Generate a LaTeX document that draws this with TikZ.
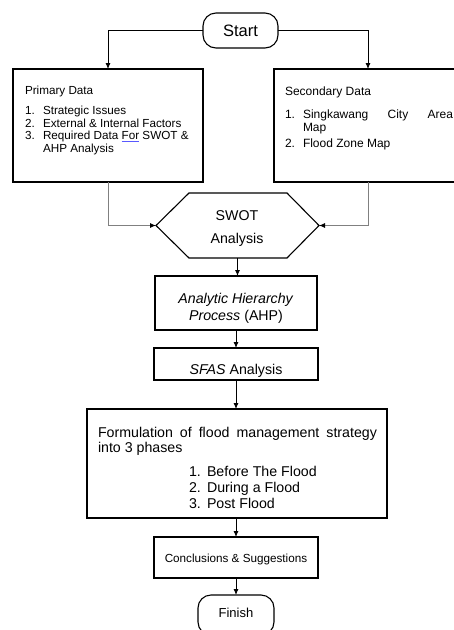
\documentclass[tikz,border=0pt]{standalone}
\usepackage{fontspec}
\setmainfont{Liberation Sans}
\usetikzlibrary{arrows.meta}
\newcommand{\spellmark}[1]{{\setbox0\hbox{#1}\rlap{\color{blue!65}\rule[-2.2pt]{\wd0}{0.6pt}}\box0}}
\tikzset{
  box/.style={draw, line width=1.1pt, inner sep=0pt, outer sep=0pt},
  term/.style={box, rounded corners=13pt},
  txt/.style={anchor=base west, inner sep=0pt, outer sep=0pt},
  ctxt/.style={anchor=base, inner sep=0pt, outer sep=0pt},
  arr/.style={line width=0.9pt, -{Latex[length=6pt,width=5pt]}},
  garr/.style={line width=0.9pt, draw=black!50, -{Latex[length=6pt,width=5pt,color=black]}},
  fA/.style={font=\fontsize{11.7}{14}\selectfont},
  fB/.style={font=\fontsize{12}{14}\selectfont},
  fC/.style={font=\fontsize{14.2}{17}\selectfont},
  fD/.style={font=\fontsize{16.5}{19}\selectfont},
  fE/.style={font=\fontsize{13}{15}\selectfont},
}
\begin{document}
\begin{tikzpicture}[x=1pt,y=-1pt]
\useasboundingbox (0,0) rectangle (454,630);
\clip (0,0) rectangle (454,630);
\fill[white] (0,0) rectangle (454,630);

% boxes
\node[term, minimum width=75, minimum height=35] (start) at (240.5,30.5) {};
\node[box, minimum width=190, minimum height=113] (prim) at (108,125.5) {};
\node[box, minimum width=188, minimum height=113] (sec) at (368,125.5) {};
\node[inner sep=0pt, outer sep=0pt, minimum width=163, minimum height=65] (swot) at (237.5,225.5) {};
\draw[line width=1.1pt] (swot.west) -- ([xshift=33pt]swot.north west) -- ([xshift=-32pt]swot.north east)
  -- (swot.east) -- ([xshift=-32pt]swot.south east) -- ([xshift=33pt]swot.south west) -- cycle;
\node[box, minimum width=162, minimum height=54] (ahp) at (236,303) {};
\node[box, minimum width=164, minimum height=32] (sfas) at (236,364) {};
\node[box, minimum width=300, minimum height=109] (form) at (237,463.5) {};
\node[box, minimum width=164, minimum height=41] (concl) at (236,557.5) {};
\node[term, minimum width=76, minimum height=40] (finish) at (236,615) {};

% texts
\node[ctxt, fD] (tstart) at (240.5,36) {Start};

\node[txt, fA] (p0) at (25,94) {Primary Data};
\node[txt, fA] (p1n) at (25,114) {1.};
\node[txt, fA] (p1) at (43,114) {Strategic Issues};
\node[txt, fA] (p2n) at (25,127) {2.};
\node[txt, fA] (p2) at (43,127) {External \& Internal Factors};
\node[txt, fA] (p3n) at (25,139.5) {3.};
\node[txt, fA] (p3) at (43,139.5) {Required Data \spellmark{For} SWOT \&};
\node[txt, fA] (p3b) at (43,152) {AHP Analysis};

\node[txt, fB] (s0) at (285,95) {Secondary Data};
\node[txt, fB] (s1n) at (285,118) {1.};
\node[txt, fB] (s1) at (303,118) {\hbox to 150pt{Singkawang\hfill City\hfill Area}};
\node[txt, fB] (s1b) at (303,131) {Map};
\node[txt, fB] (s2n) at (285,147) {2.};
\node[txt, fB] (s2) at (303,147) {Flood Zone Map};

\node[ctxt, fC] (w1) at (237,220) {SWOT};
\node[ctxt, fC] (w2) at (237,243) {Analysis};

\node[ctxt, fC] (a1) at (236,303) {\textit{Analytic Hierarchy}};
\node[ctxt, fC] (a2) at (236,320) {\textit{Process} (AHP)};

\node[ctxt, fC] (f1) at (236,374) {\textit{SFAS} Analysis};

\node[txt, fC] (g1) at (98,437) {\hbox to 279pt{Formulation\hfill of\hfill flood\hfill management\hfill strategy}};
\node[txt, fC] (g2) at (98,452) {into 3 phases};
\node[txt, fC] (g3n) at (189,476) {1.};
\node[txt, fC] (g3) at (207,476) {Before The Flood};
\node[txt, fC] (g4n) at (189,492) {2.};
\node[txt, fC] (g4) at (207,492) {During a Flood};
\node[txt, fC] (g5n) at (189,508) {3.};
\node[txt, fC] (g5) at (207,508) {Post Flood};

\node[ctxt, fA] (c1) at (236,562) {Conclusions \& Suggestions};
\node[ctxt, fE] (tfin) at (236,617) {Finish};

% connectors
\draw[arr] (start.west) -| (prim.north);
\draw[arr] (start.east) -| (sec.north);
\draw[garr] (prim.south) |- (swot.west);
\draw[garr] (sec.south) |- (swot.east);
\draw[arr] (swot.south) -- (swot.south |- ahp.north);
\draw[arr] (ahp.south) -- (sfas.north);
\draw[arr] (sfas.south) -- (sfas.south |- form.north);
\draw[arr] (sfas.south |- form.south) -- (concl.north);
\draw[arr] (concl.south) -- (finish.north);
\end{tikzpicture}
\end{document}
